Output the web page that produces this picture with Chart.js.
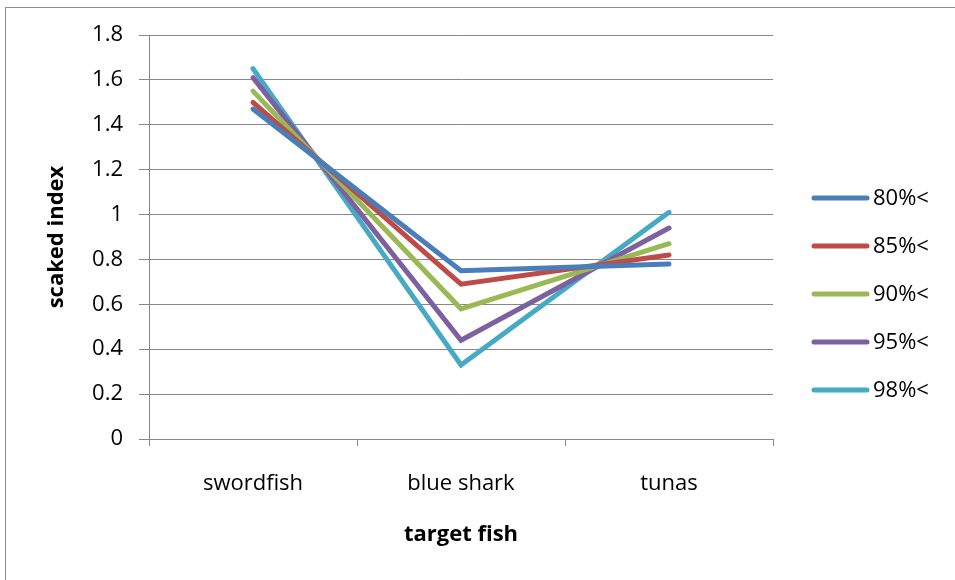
<!DOCTYPE html>
<html>
<head>
<meta charset="utf-8">
<title>scaked index by target fish</title>
<script src="https://cdn.jsdelivr.net/npm/chart.js@4/dist/chart.umd.min.js"></script>
<style>
  html, body { margin: 0; padding: 0; background: #ffffff; }
  #wrap { width: 955px; height: 580px; }
</style>
</head>
<body>
<div id="wrap"><canvas id="chart" width="955" height="580"></canvas></div>
<script>
// Target fish categories along the x axis
const categories = ['swordfish', 'blue shark', 'tunas'];

// Series names (threshold levels)
const seriesNames = ['80%<', '85%<', '90%<', '95%<', '98%<'];

// Scaked index per threshold, one value per category
const series80 = [1.47, 0.75, 0.78];
const series85 = [1.50, 0.69, 0.82];
const series90 = [1.55, 0.58, 0.87];
const series95 = [1.61, 0.44, 0.94];
const series98 = [1.65, 0.33, 1.01];

// Y-axis range and tick step
const yMin = 0;
const yMax = 1.8;
const yStep = 0.2;

const seriesValues = [series80, series85, series90, series95, series98];
const seriesColors = ['#4A7EBB', '#BE4B48', '#98B954', '#7D60A0', '#46AAC5'];

const FONT = '"Open Sans", "Liberation Sans", sans-serif';
const FONT_SIZE = 22;
const GRID = '#878787';

// Outer frame around the whole chart
const framePlugin = {
  id: 'frame',
  beforeDraw(chart) {
    const ctx = chart.ctx;
    ctx.save();
    ctx.fillStyle = '#ffffff';
    ctx.fillRect(0, 0, chart.width, chart.height);
    ctx.strokeStyle = '#8c8c8c';
    ctx.lineWidth = 1;
    ctx.strokeRect(5.5, 7.5, chart.width + 10, chart.height + 10);
    ctx.restore();
  }
};

// Legend on the right: a short line sample followed by the series name
const sideLegend = {
  id: 'sideLegend',
  afterDraw(chart, args, opts) {
    const ctx = chart.ctx;
    ctx.save();
    ctx.font = opts.fontSize + 'px ' + FONT;
    ctx.textBaseline = 'middle';
    ctx.textAlign = 'left';
    chart.data.datasets.forEach((ds, i) => {
      const y = opts.top + i * opts.spacing;
      ctx.strokeStyle = ds.borderColor;
      ctx.lineWidth = ds.borderWidth;
      ctx.lineCap = 'round';
      ctx.beginPath();
      ctx.moveTo(opts.x, y);
      ctx.lineTo(opts.x + opts.lineLength, y);
      ctx.stroke();
      ctx.fillStyle = '#000000';
      ctx.fillText(ds.label, opts.x + opts.lineLength + opts.gap, y + 1);
    });
    ctx.restore();
  }
};

const datasets = seriesNames.map((name, i) => ({
  label: name,
  data: seriesValues[i],
  borderColor: seriesColors[i],
  backgroundColor: seriesColors[i],
  borderWidth: 5,
  borderCapStyle: 'round',
  borderJoinStyle: 'miter',
  pointRadius: 0,
  pointHoverRadius: 0,
  tension: 0,
  fill: false
}));

new Chart(document.getElementById('chart'), {
  type: 'line',
  data: { labels: categories, datasets },
  plugins: [framePlugin, sideLegend],
  options: {
    responsive: false,
    animation: false,
    events: [],
    layout: { padding: { left: 0, top: 35, right: 182, bottom: 0 } },
    plugins: {
      legend: { display: false },
      tooltip: { enabled: false },
      title: { display: false },
      sideLegend: { x: 814, top: 198, spacing: 48, lineLength: 53, gap: 6, fontSize: FONT_SIZE }
    },
    scales: {
      x: {
        type: 'category',
        offset: true,
        afterFit(scale) { scale.height = 141; },
        grid: {
          offset: true,
          drawOnChartArea: false,
          drawTicks: true,
          tickLength: 7,
          color: GRID,
          lineWidth: 1
        },
        border: { display: true, color: GRID, width: 1 },
        ticks: {
          color: '#000000',
          font: { family: FONT, size: FONT_SIZE },
          padding: 25,
          maxRotation: 0
        },
        title: {
          display: true,
          text: 'target fish',
          color: '#000000',
          font: { family: FONT, size: FONT_SIZE, weight: 'bold' },
          padding: { top: 32, bottom: 32 }
        }
      },
      y: {
        min: yMin,
        max: yMax,
        afterFit(scale) { scale.width = 149; },
        afterBuildTicks(scale) {
          const ticks = [];
          for (let k = 0; k <= Math.round((yMax - yMin) / yStep); k++) {
            ticks.push({ value: +(yMin + k * yStep).toFixed(1) });
          }
          scale.ticks = ticks;
        },
        grid: {
          drawOnChartArea: true,
          drawTicks: true,
          tickLength: 10,
          color: GRID,
          lineWidth: 1
        },
        border: { display: true, color: GRID, width: 1 },
        ticks: {
          color: '#000000',
          font: { family: FONT, size: FONT_SIZE },
          padding: 16,
          callback: (v) => String(+Number(v).toFixed(1))
        },
        title: {
          display: true,
          text: 'scaked index',
          color: '#000000',
          font: { family: FONT, size: FONT_SIZE, weight: 'bold' },
          padding: { top: 44, bottom: 44 }
        }
      }
    }
  }
});
</script>
</body>
</html>
